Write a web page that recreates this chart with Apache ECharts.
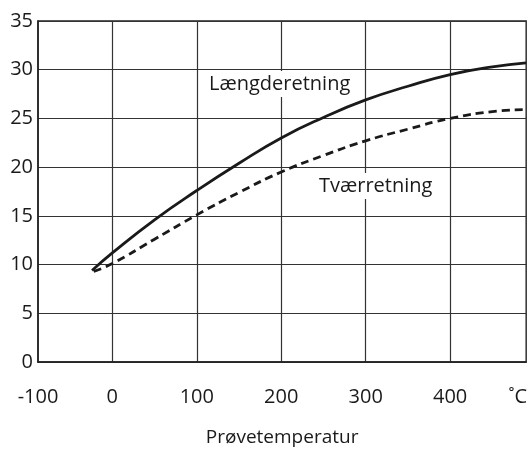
<!DOCTYPE html>
<html>
<head>
<meta charset="utf-8">
<script src="https://cdn.jsdelivr.net/npm/echarts@6/dist/echarts.min.js"></script>
<style>
html,body{margin:0;padding:0;background:#fff;}
#c{width:530px;height:452px;}
</style>
</head>
<body>
<div id="c"></div>
<script>
// Temperature (°C) and values
const laengdeTemp = [-24, 0, 50, 100, 150, 200, 250, 300, 350, 400, 450, 490];
const laengdeVal  = [9.4, 11.2, 14.6, 17.6, 20.4, 23.0, 25.1, 26.9, 28.3, 29.5, 30.3, 30.7];
const tvaerTemp   = [-22, 0, 50, 100, 150, 200, 250, 300, 350, 400, 450, 490];
const tvaerVal    = [9.3, 10.1, 12.6, 15.1, 17.4, 19.5, 21.2, 22.7, 23.9, 25.0, 25.7, 25.9];

// axis ticks
const xGridValues = [0, 100, 200, 300, 400];
const xLabelValues = [-88, 0, 100, 200, 300, 400, 480];
const xLabelTexts  = ['-100', '0', '100', '200', '300', '400', '\u02DAC'];
const xStart = -88;   // compressed first interval of the original axis
const xEnd = 490;
const yTicks = [0, 5, 10, 15, 20, 25, 30, 35];

const seriesNames = ['Længderetning', 'Tværretning'];
const xAxisTitle = 'Prøvetemperatur';

const FONT = '"Open Sans", "Noto Sans", sans-serif';
const chart = echarts.init(document.getElementById('c'), null, {renderer: 'canvas'});

const pair = (xs, ys) => xs.map((x, i) => [x, ys[i]]);

chart.setOption({
  animation: false,
  backgroundColor: '#fff',
  grid: {left: 38, right: 1, top: 21, bottom: 87, show: true, borderColor: '#222', borderWidth: 1.4, containLabel: false},
  xAxis: {
    type: 'value', min: xStart, max: xEnd,
    name: xAxisTitle, nameLocation: 'middle', nameGap: 66,
    nameTextStyle: {fontFamily: FONT, fontSize: 19, color: '#1a1a1a'},
    axisLine: {show: true, onZero: false, lineStyle: {color: '#222', width: 1.6}},
    axisTick: {show: false, customValues: xGridValues},
    axisLabel: {
      customValues: xLabelValues, margin: 25,
      fontFamily: FONT, fontSize: 20, color: '#1a1a1a',
      formatter: v => { const i = xLabelValues.indexOf(v); return i >= 0 ? xLabelTexts[i] : ''; }
    },
    splitLine: {show: true, lineStyle: {color: '#333', width: 1.2}}
  },
  yAxis: {
    type: 'value', min: yTicks[0], max: yTicks[yTicks.length - 1], interval: 5,
    axisLine: {show: true, onZero: false, lineStyle: {color: '#222', width: 1.6}},
    axisTick: {show: false},
    axisLabel: {margin: 5, fontFamily: FONT, fontSize: 20, color: '#1a1a1a'},
    splitLine: {show: true, lineStyle: {color: '#333', width: 1.2}}
  },
  series: [
    {
      name: seriesNames[0], type: 'line', smooth: 0.5, symbol: 'none',
      data: pair(laengdeTemp, laengdeVal),
      lineStyle: {color: '#1a1a1a', width: 2.8}
    },
    {
      name: seriesNames[1], type: 'line', smooth: 0.5, symbol: 'none',
      data: pair(tvaerTemp, tvaerVal),
      lineStyle: {color: '#1a1a1a', width: 2.8, type: [8, 5]}
    }
  ],
  graphic: [
    {type: 'text', left: 205, top: 71, z: 100,
     style: {text: seriesNames[0], fontFamily: FONT, fontSize: 20, fill: '#1a1a1a',
              backgroundColor: '#fff', padding: [3, 4, 3, 4]}},
    {type: 'text', left: 315, top: 173, z: 100,
     style: {text: seriesNames[1], fontFamily: FONT, fontSize: 20, fill: '#1a1a1a',
              backgroundColor: '#fff', padding: [3, 4, 3, 4]}}
  ]
});
</script>
</body>
</html>
